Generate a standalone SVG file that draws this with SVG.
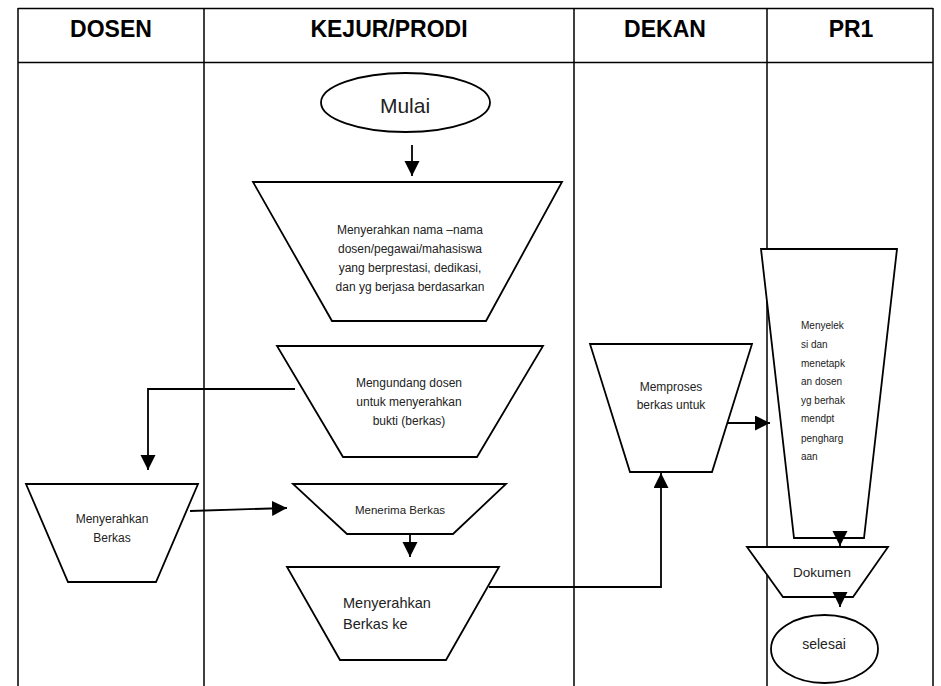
<svg xmlns="http://www.w3.org/2000/svg" width="941" height="686" viewBox="0 0 941 686">
<style>
.grid{stroke:#000;stroke-width:1.5;fill:none}
.hdr{font-family:"Liberation Sans",Arial,sans-serif;font-weight:bold;font-size:23px;text-anchor:middle;fill:#000}
.shape{fill:#fff;stroke:#000;stroke-width:1.8}
.t{font-family:"Liberation Sans",Arial,sans-serif;font-size:12px;fill:#222;text-anchor:middle}
.tl{font-family:"Liberation Sans",Arial,sans-serif;font-size:10px;fill:#222}
.conn{stroke:#000;stroke-width:1.8;fill:none;marker-end:url(#ah)}
</style>
<defs>
<marker id="ah" markerUnits="userSpaceOnUse" markerWidth="16" markerHeight="16" refX="15" refY="7.5" orient="auto">
<path d="M0,0 L15,7.5 L0,15 Z" fill="#000"/>
</marker>
</defs>
<rect width="941" height="686" fill="#fff"/>
<g id="table">
<path class="grid" d="M18,8.5 H933 M18,62.5 H933 M18,8 V686 M204,8 V686 M574,8 V686 M767,8 V686 M933,8 V686"/>
<text class="hdr" x="111" y="37">DOSEN</text>
<text class="hdr" x="389" y="37">KEJUR/PRODI</text>
<text class="hdr" x="665" y="37">DEKAN</text>
<text class="hdr" x="851" y="37">PR1</text>
</g>
<g id="mulai">
<ellipse class="shape" cx="405.5" cy="102.5" rx="84.5" ry="29.5"/>
<text class="t" x="405" y="113" style="font-size:21px">Mulai</text>
</g>
<g id="menyerahkan-nama">
<polygon class="shape" points="253,182 562,182 486,321 332,321"/>
<text class="t" x="410" y="234">Menyerahkan nama –nama</text>
<text class="t" x="410" y="253">dosen/pegawai/mahasiswa</text>
<text class="t" x="410" y="272">yang berprestasi, dedikasi,</text>
<text class="t" x="410" y="291">dan yg berjasa berdasarkan</text>
</g>
<g id="mengundang">
<polygon class="shape" points="277,346 543,346 477,457 343,457"/>
<text class="t" x="409" y="387">Mengundang dosen</text>
<text class="t" x="409" y="406">untuk menyerahkan</text>
<text class="t" x="409" y="425">bukti (berkas)</text>
</g>
<g id="menyerahkan-berkas">
<polygon class="shape" points="26,484 198,484 156,582 68,582"/>
<text class="t" x="112" y="523">Menyerahkan</text>
<text class="t" x="112" y="542">Berkas</text>
</g>
<g id="menerima-berkas">
<polygon class="shape" points="293,484 506,484 453,534 347,534"/>
<text class="t" x="400" y="514" style="font-size:11.5px">Menerima Berkas</text>
</g>
<g id="menyerahkan-berkas-ke">
<polygon class="shape" points="287,567 499,567 446,660 340,660"/>
<text class="t" x="343" y="608" style="font-size:14.5px;text-anchor:start">Menyerahkan</text>
<text class="t" x="343" y="629" style="font-size:14.5px;text-anchor:start">Berkas ke</text>
</g>
<g id="memproses">
<polygon class="shape" points="590,344 752,344 712,472 630,472"/>
<text class="t" x="671" y="391">Memproses</text>
<text class="t" x="671" y="409">berkas untuk</text>
</g>
<g id="menyeleksi">
<polygon class="shape" points="761,249 897,249 864,538 794,538"/>
<text class="tl" x="801" y="329">Menyelek</text>
<text class="tl" x="801" y="348">si dan</text>
<text class="tl" x="801" y="367">menetapk</text>
<text class="tl" x="801" y="385">an dosen</text>
<text class="tl" x="801" y="404">yg berhak</text>
<text class="tl" x="801" y="422">mendpt</text>
<text class="tl" x="801" y="442">pengharg</text>
<text class="tl" x="801" y="460">aan</text>
</g>
<g id="dokumen">
<polygon class="shape" points="747,547 888,547 853,597 783,597"/>
<text class="t" x="822" y="577" style="font-size:13.5px">Dokumen</text>
</g>
<g id="selesai">
<ellipse class="shape" cx="824.5" cy="649" rx="53.5" ry="34"/>
<text class="t" x="824" y="649" style="font-size:14px">selesai</text>
</g>
<g id="connectors">
<path class="conn" d="M412,145 V176"/>
<path class="conn" d="M295,389 H148 V470"/>
<path class="conn" d="M190,511 L287,508"/>
<path class="conn" d="M410,534 V557"/>
<path class="conn" d="M489,587 H661 V473"/>
<path class="conn" d="M727,423 H770"/>
<path class="conn" d="M840,531 V546"/>
<path class="conn" d="M840,592 V607"/>
</g>
</svg>
